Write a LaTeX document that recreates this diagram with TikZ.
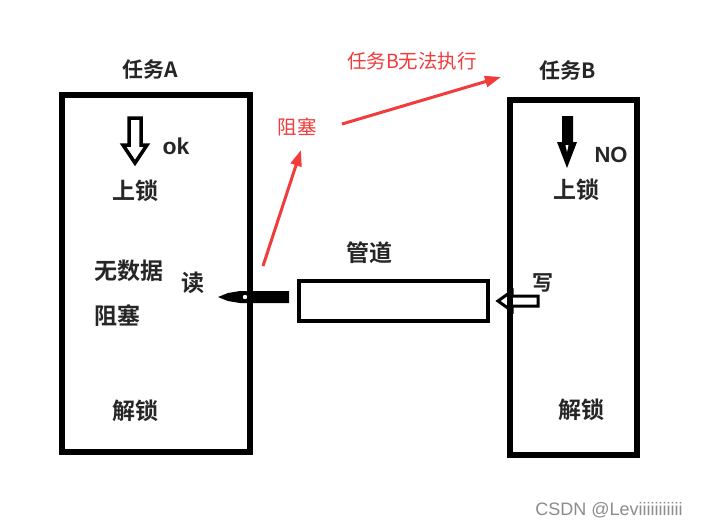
\documentclass[tikz,border=0pt]{standalone}
\usepackage{fontspec}
\newfontfamily\cjk{Noto Sans CJK SC}
\newfontfamily\cjkb{Noto Sans CJK SC Bold}
\setmainfont{Liberation Sans}
\usetikzlibrary{arrows.meta}
\definecolor{redc}{HTML}{F23B3B}
\tikzset{
  taskbox/.style={draw=black, line width=5.5pt},
  pipebox/.style={draw=black, line width=4pt},
  blk/.style={font=\cjkb\fontsize{23}{25}\selectfont, inner sep=0pt, text=black!85},
  ttl/.style={font=\cjkb\fontsize{21}{23}\selectfont, inner sep=0pt, text=black!85},
  red lbl/.style={font=\cjk\fontsize{19.5}{21}\selectfont, inner sep=0pt, text=redc},
  redarrow/.style={draw=redc, line width=3pt, -{Triangle[length=16pt,width=11pt]}},
}
\begin{document}
\begin{tikzpicture}[x=1pt,y=-1pt]
\useasboundingbox[fill=white] (0,0) rectangle (702,528);
% boxes
\draw[taskbox] (62,95) rectangle (250,452);
\node (boxA) at (156,273.5) [minimum width=188pt,minimum height=357pt,inner sep=0pt] {};
\draw[taskbox] (510,100) rectangle (637,455);
\node (boxB) at (573.5,277.5) [minimum width=127pt,minimum height=355pt,inner sep=0pt] {};
\draw[pipebox] (299,281) rectangle (488,321);
\node (pipe) at (393.5,301) [minimum width=189pt,minimum height=40pt,inner sep=0pt] {};
% titles
\node[ttl] (tA) at (150,69) {任务A};
\node[ttl] (tB) at (568,70) {任务B};
% task A contents
\draw[line width=3.5pt, line join=miter] (129,118) -- (141,118) -- (141,145) -- (147,145) -- (135,163) -- (123,145) -- (129,145) -- cycle;
\node[font=\bfseries\fontsize{23}{25}\selectfont, inner sep=0pt, text=black!85] (ok) at (176,146) {ok};
\node[blk] (lockA) at (135,191) {上锁};
\node[blk] (nodata) at (129,271) {无数据};
\node[blk] (blockA) at (117,316) {阻塞};
\node[blk] (read) at (193,283) {读};
\node[blk] (unlockA) at (135,411) {解锁};
% read arrow
\fill[black] (289,291) -- (289,303) -- (240,303) -- (228,301) -- (218,297) -- (228,293) -- (240,291) -- cycle;
\fill[white] (245,297) circle (2.2pt);
% pipe label
\node[blk] (pipelbl) at (369,253) {管道};
% task B contents
\fill[black] (562,116) -- (573,116) -- (573,142) -- (577,142) -- (567,168) -- (557,142) -- (562,142) -- cycle;
\fill[white] (565.5,145) -- (568.5,145) -- (567,152) -- cycle;
\node[font=\bfseries\fontsize{22}{24}\selectfont, inner sep=0pt, text=black!85] (no) at (611,155) {NO};
\node[blk] (lockB) at (576,190) {上锁};
\node[ttl] (write) at (543,283) {写};
\node[blk] (unlockB) at (581,410) {解锁};
% write arrow (hollow)
\draw[line width=3pt, line join=miter] (538,296) -- (512,296) -- (512,291) -- (498,301) -- (512,311) -- (512,306) -- (538,306) -- cycle;
% red annotations
\node[red lbl] (blockR) at (297,127) {阻塞};
\node[red lbl] (cannot) at (412,61) {任务B无法执行};
\coordinate (r1s) at (263,266);
\coordinate (r1e) at (301,150);
\coordinate (r2s) at (342,124);
\coordinate (r2e) at (501,77);
\draw[redarrow] (r1s) -- (r1e);
\draw[redarrow] (r2s) -- (r2e);
% watermark
\node[font=\fontsize{18}{20}\selectfont, text=black!45, inner sep=0pt] (wm) at (609,510) {CSDN @Leviiiiiiiiiii};
\end{tikzpicture}
\end{document}
